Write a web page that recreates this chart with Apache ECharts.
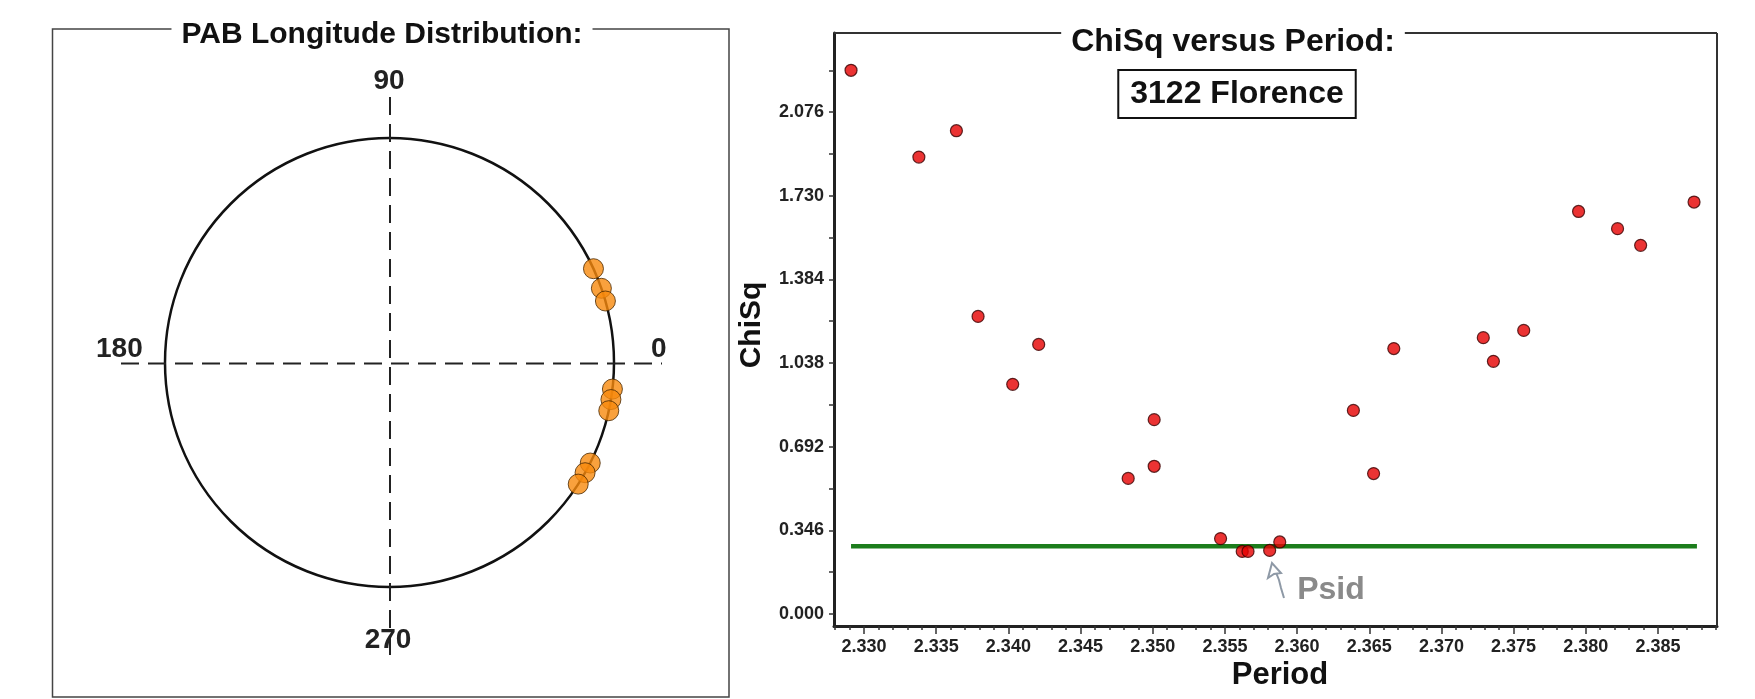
<!DOCTYPE html>
<html>
<head>
<meta charset="utf-8">
<script src="https://cdn.jsdelivr.net/npm/echarts@6/dist/echarts.min.js"></script>
<style>
html,body{margin:0;padding:0;background:#fff;}
#main{width:1755px;height:699px;}
</style>
</head>
<body>
<div id="main"></div>
<script>
// ---------- DATA ----------
// PAB longitude distribution (degrees)
const pabAngles = [24.7, 19.3, 15.9, 353.2, 350.5, 347.6, 333.4, 330.6, 327.2];
const polarTickLabels = ['0', '90', '180', '270'];

// ChiSq versus Period
const periods = [2.3291, 2.3338, 2.3364, 2.3379, 2.3403, 2.3421, 2.3483, 2.3501, 2.3501, 2.3547,
                 2.3562, 2.3566, 2.3581, 2.3588, 2.3639, 2.3653, 2.3667, 2.3729, 2.3736, 2.3757,
                 2.3795, 2.3822, 2.3838, 2.3875];
const chisq   = [2.249, 1.890, 1.999, 1.231, 0.950, 1.115, 0.561, 0.804, 0.611, 0.312,
                 0.259, 0.259, 0.263, 0.298, 0.842, 0.581, 1.098, 1.143, 1.045, 1.173,
                 1.665, 1.594, 1.525, 1.704];
const thresholdLevel = 0.280;
const thresholdPeriods = [2.3291, 2.3877];

const xTickLabels = ['2.330','2.335','2.340','2.345','2.350','2.355','2.360','2.365','2.370','2.375','2.380','2.385'];
const yTickLabels = ['0.000','0.346','0.692','1.038','1.384','1.730','2.076'];
const yMinorTicks = [0, 0.173, 0.346, 0.519, 0.692, 0.865, 1.038, 1.211, 1.384, 1.557, 1.730, 1.903, 2.076, 2.249];
const xMinorTicks = [];
for (let i = 2328; i <= 2389; i++) xMinorTicks.push(i / 1000);

const xRange = [2.32792, 2.38909];
const yRange = [-0.0496, 2.4032];

// ---------- CHART ----------
const FONT = "'Liberation Sans', Arial, sans-serif";
const chart = echarts.init(document.getElementById('main'));

function txt(x, y, text, size, fill, extra) {
  return Object.assign({
    type: 'text', x: x, y: y, z: 50,
    style: Object.assign({
      text: text, x: 0, y: 0,
      font: 'bold ' + size + 'px ' + FONT,
      fill: fill || '#111',
      align: 'center', textAlign: 'center',
      verticalAlign: 'middle', textVerticalAlign: 'middle'
    }, extra || {})
  }, {});
}

const scatterData = periods.map((p, i) => [p, chisq[i]]);
const xMajorVals = xTickLabels.map(Number);
const yMajorVals = yTickLabels.map(Number);

const option = {
  backgroundColor: '#fff',
  animation: false,
  polar: [{ center: [389.5, 362.5], radius: 224.5 }],
  angleAxis: [{
    polarIndex: 0, type: 'value', min: 0, max: 360, startAngle: 0, clockwise: false,
    axisLine: { show: true, lineStyle: { color: '#111', width: 2.5 } },
    axisTick: { show: false }, axisLabel: { show: false },
    splitLine: { show: false }, splitArea: { show: false }
  }],
  radiusAxis: [{ polarIndex: 0, type: 'value', min: 0, max: 1, show: false,
    axisLine: { show: false }, splitLine: { show: false } }],
  grid: [{ left: 834, top: 33, width: 883, height: 593, show: false }],
  xAxis: [{
    gridIndex: 0, type: 'value', position: 'bottom', min: xRange[0], max: xRange[1],
    axisLine: { show: true, onZero: false, lineStyle: { color: '#222', width: 3 } },
    axisTick: { show: true, length: 4, customValues: xMinorTicks, lineStyle: { color: '#333', width: 1.5 } },
    axisLabel: { customValues: xMajorVals, formatter: v => Number(v).toFixed(3), margin: 12,
      fontSize: 18, fontWeight: 'bold', fontFamily: FONT, color: '#222' },
    splitLine: { show: false }
  }, {
    gridIndex: 0, type: 'value', position: 'bottom', min: xRange[0], max: xRange[1],
    axisLine: { show: false, onZero: false },
    axisTick: { show: true, length: 8, customValues: xMajorVals, lineStyle: { color: '#333', width: 1.5 } },
    axisLabel: { show: false },
    splitLine: { show: false }
  }],
  yAxis: [{
    gridIndex: 0, type: 'value', min: yRange[0], max: yRange[1],
    axisLine: { show: true, onZero: false, lineStyle: { color: '#222', width: 3 } },
    axisTick: { show: true, length: 5, customValues: yMinorTicks, lineStyle: { color: '#333', width: 1.5 } },
    axisLabel: { customValues: yMajorVals, formatter: v => Number(v).toFixed(3), margin: 10,
      fontSize: 18, fontWeight: 'bold', fontFamily: FONT, color: '#222' },
    splitLine: { show: false }
  }],
  series: [
    {
      type: 'scatter', coordinateSystem: 'polar', polarIndex: 0,
      data: pabAngles.map(a => [1, a]),
      symbol: 'circle', symbolSize: 20,
      itemStyle: { color: '#f7890c', borderColor: '#4a2800', borderWidth: 1 },
      z: 5
    },
    {
      type: 'line', xAxisIndex: 0, yAxisIndex: 0,
      data: thresholdPeriods.map(p => [p, thresholdLevel]),
      symbol: 'none', lineStyle: { color: '#1c7d1c', width: 4.5 }, z: 2
    },
    {
      type: 'scatter', xAxisIndex: 0, yAxisIndex: 0,
      data: scatterData, symbol: 'circle', symbolSize: 12,
      itemStyle: { color: '#e60000', borderColor: '#3a0000', borderWidth: 1.2 }, z: 5
    }
  ],
  graphic: [
    // left panel frame
    { type: 'rect', z: 1, shape: { x: 52.5, y: 29, width: 676.5, height: 668 },
      style: { fill: 'none', stroke: '#444', lineWidth: 1.5 } },
    // dashed cross
    { type: 'line', z: 1, shape: { x1: 121, y1: 363.5, x2: 662, y2: 363.5 },
      style: { stroke: '#222', lineWidth: 2, lineDash: [18, 9] } },
    { type: 'line', z: 1, shape: { x1: 390, y1: 97, x2: 390, y2: 657 },
      style: { stroke: '#222', lineWidth: 2, lineDash: [18, 9] } },
    txt(658.8, 349, polarTickLabels[0], 28, '#222'),
    txt(389, 81, polarTickLabels[1], 28, '#222'),
    txt(119.4, 349, polarTickLabels[2], 28, '#222'),
    txt(388, 640, polarTickLabels[3], 28, '#222'),
    txt(382, 35, 'PAB Longitude Distribution:', 30, '#111', { backgroundColor: '#fff', padding: [2, 10] }),
    // right frame top & right
    { type: 'line', z: 1, shape: { x1: 834, y1: 33, x2: 1717, y2: 33 },
      style: { stroke: '#333', lineWidth: 2 } },
    { type: 'line', z: 1, shape: { x1: 1717, y1: 33, x2: 1717, y2: 626 },
      style: { stroke: '#333', lineWidth: 2 } },
    txt(1233, 42, 'ChiSq versus Period:', 32, '#111', { backgroundColor: '#fff', padding: [2, 10] }),
    txt(1237, 94, '3122 Florence', 32, '#111', { backgroundColor: '#fff', borderColor: '#111', borderWidth: 2, padding: [6, 11], lineHeight: 34 }),
    Object.assign(txt(752, 325, 'ChiSq', 30, '#111'), { rotation: Math.PI / 2 }),
    txt(1280, 675, 'Period', 31, '#111'),
    // Psid annotation
    txt(1331, 590, 'Psid', 32, '#8a8a8a'),
    { type: 'polyline', z: 40, shape: { points: [[1284, 598], [1281, 588], [1279, 580], [1275, 570]] },
      style: { fill: 'none', stroke: '#8e99a6', lineWidth: 2 } },
    { type: 'polygon', z: 40, shape: { points: [[1272, 563], [1268, 578], [1274, 574], [1281, 573]] },
      style: { fill: '#fff', stroke: '#8e99a6', lineWidth: 2 } }
  ]
};
chart.setOption(option);
</script>
</body>
</html>
